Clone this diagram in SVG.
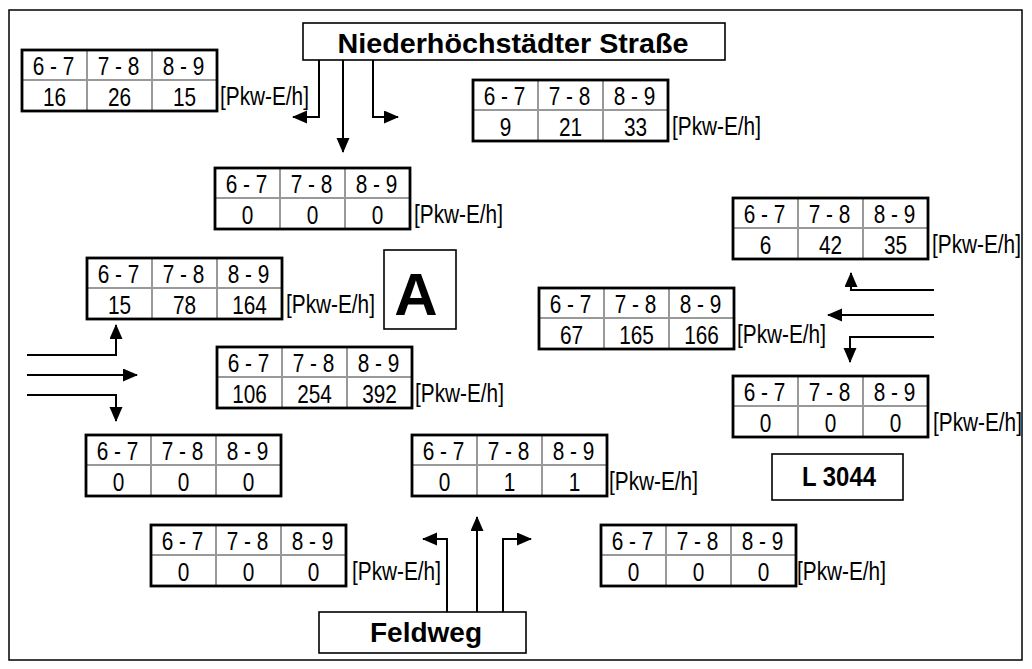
<svg xmlns="http://www.w3.org/2000/svg" xmlns:xlink="http://www.w3.org/1999/xlink" width="1032" height="669" viewBox="0 0 1032 669">
<style>
.n{font-family:"Liberation Sans",Arial,sans-serif;font-size:26px;fill:#000;text-anchor:middle;transform-box:fill-box;transform-origin:center;transform:scaleX(0.8)}
.l{font-family:"Liberation Sans",Arial,sans-serif;font-size:26px;fill:#000;text-anchor:start;transform-box:fill-box;transform-origin:0% 50%;transform:scaleX(0.8)}
.b{font-family:"Liberation Sans",Arial,sans-serif;font-weight:bold;fill:#000;text-anchor:middle}
.box{fill:#fff;stroke:#000;stroke-width:1.6}
.grid{stroke:#999;stroke-width:2}
.frm{fill:none;stroke:#000;stroke-width:2.8}
.arr{fill:none;stroke:#000;stroke-width:2;marker-end:url(#ah)}
</style>
<defs>
<marker id="ah" markerUnits="userSpaceOnUse" markerWidth="16" markerHeight="14" refX="14" refY="6.5" orient="auto"><path d="M0,0 L15,6.5 L0,13 z" fill="#000"/></marker>
<g id="tbl">
<rect x="0" y="0" width="195" height="61" fill="#fff"/>
<line class="grid" x1="0" y1="30" x2="195" y2="30"/>
<line class="grid" x1="65" y1="0" x2="65" y2="61"/>
<line class="grid" x1="130" y1="0" x2="130" y2="61"/>
<rect class="frm" x="0" y="0" width="195" height="61"/>
<text class="n" x="31.5" y="25">6 - 7</text>
<text class="n" x="96.5" y="25">7 - 8</text>
<text class="n" x="161.5" y="25">8 - 9</text>
</g>
</defs>
<rect x="0" y="0" width="1032" height="669" fill="#fff"/>
<rect x="9" y="10" width="1013" height="650" fill="none" stroke="#000" stroke-width="1.5"/>

<g id="connectors">
<path class="arr" d="M319,60 V117 H293"/>
<path class="arr" d="M343,60 V152"/>
<path class="arr" d="M373,60 V117 H398"/>
<path class="arr" d="M27,355 H116 V325"/>
<path class="arr" d="M27,375 H137"/>
<path class="arr" d="M27,395 H116 V421"/>
<path class="arr" d="M934,290 H851 V273"/>
<path class="arr" d="M934,315 H828"/>
<path class="arr" d="M934,337 H850 V362"/>
<path class="arr" d="M447,612 V539 H423"/>
<path class="arr" d="M477,612 V517"/>
<path class="arr" d="M503,612 V539 H531"/>
</g>

<g id="road-north"><rect class="box" x="303" y="23" width="422" height="37"/><text class="b" x="513" y="53" font-size="28" textLength="351" lengthAdjust="spacingAndGlyphs">Niederhöchstädter Straße</text></g>
<g id="road-south"><rect class="box" x="319" y="612" width="207" height="41"/><text class="b" x="426" y="642" font-size="28" textLength="112" lengthAdjust="spacingAndGlyphs">Feldweg</text></g>
<g id="road-east"><rect class="box" x="772" y="454" width="131" height="46"/><text class="b" x="839" y="486" font-size="27" textLength="74" lengthAdjust="spacingAndGlyphs">L 3044</text></g>
<g id="node-A"><rect class="box" x="384" y="250" width="72" height="79"/><text class="b" x="416" y="315" font-size="60">A</text></g>

<g id="t1"><use xlink:href="#tbl" x="22" y="50"/><text class="n" x="54.5" y="106">16</text><text class="n" x="119.5" y="106">26</text><text class="n" x="184.5" y="106">15</text><text class="l" x="220" y="105">[Pkw-E/h]</text></g>
<g id="t2"><use xlink:href="#tbl" x="473" y="80"/><text class="n" x="505.5" y="136">9</text><text class="n" x="570.5" y="136">21</text><text class="n" x="635.5" y="136">33</text><text class="l" x="672" y="135">[Pkw-E/h]</text></g>
<g id="t3"><use xlink:href="#tbl" x="215" y="168"/><text class="n" x="247.5" y="224">0</text><text class="n" x="312.5" y="224">0</text><text class="n" x="377.5" y="224">0</text><text class="l" x="414" y="223">[Pkw-E/h]</text></g>
<g id="t4"><use xlink:href="#tbl" x="87" y="258"/><text class="n" x="119.5" y="314">15</text><text class="n" x="184.5" y="314">78</text><text class="n" x="249.5" y="314">164</text><text class="l" x="286" y="313">[Pkw-E/h]</text></g>
<g id="t5"><use xlink:href="#tbl" x="217" y="347"/><text class="n" x="249.5" y="403">106</text><text class="n" x="314.5" y="403">254</text><text class="n" x="379.5" y="403">392</text><text class="l" x="415" y="402">[Pkw-E/h]</text></g>
<g id="t6"><use xlink:href="#tbl" x="733" y="198"/><text class="n" x="765.5" y="254">6</text><text class="n" x="830.5" y="254">42</text><text class="n" x="895.5" y="254">35</text><text class="l" x="932" y="253">[Pkw-E/h]</text></g>
<g id="t7"><use xlink:href="#tbl" x="539" y="288"/><text class="n" x="571.5" y="344">67</text><text class="n" x="636.5" y="344">165</text><text class="n" x="701.5" y="344">166</text><text class="l" x="737" y="343">[Pkw-E/h]</text></g>
<g id="t8"><use xlink:href="#tbl" x="733" y="376"/><text class="n" x="765.5" y="432">0</text><text class="n" x="830.5" y="432">0</text><text class="n" x="895.5" y="432">0</text><text class="l" x="933" y="431">[Pkw-E/h]</text></g>
<g id="t9"><use xlink:href="#tbl" x="86" y="435"/><text class="n" x="118.5" y="491">0</text><text class="n" x="183.5" y="491">0</text><text class="n" x="248.5" y="491">0</text></g>
<g id="t10"><use xlink:href="#tbl" x="412" y="435"/><text class="n" x="444.5" y="491">0</text><text class="n" x="509.5" y="491">1</text><text class="n" x="574.5" y="491">1</text><text class="l" x="609" y="490">[Pkw-E/h]</text></g>
<g id="t11"><use xlink:href="#tbl" x="151" y="525"/><text class="n" x="183.5" y="581">0</text><text class="n" x="248.5" y="581">0</text><text class="n" x="313.5" y="581">0</text><text class="l" x="352" y="580">[Pkw-E/h]</text></g>
<g id="t12"><use xlink:href="#tbl" x="601" y="525"/><text class="n" x="633.5" y="581">0</text><text class="n" x="698.5" y="581">0</text><text class="n" x="763.5" y="581">0</text><text class="l" x="797" y="580">[Pkw-E/h]</text></g>
</svg>
